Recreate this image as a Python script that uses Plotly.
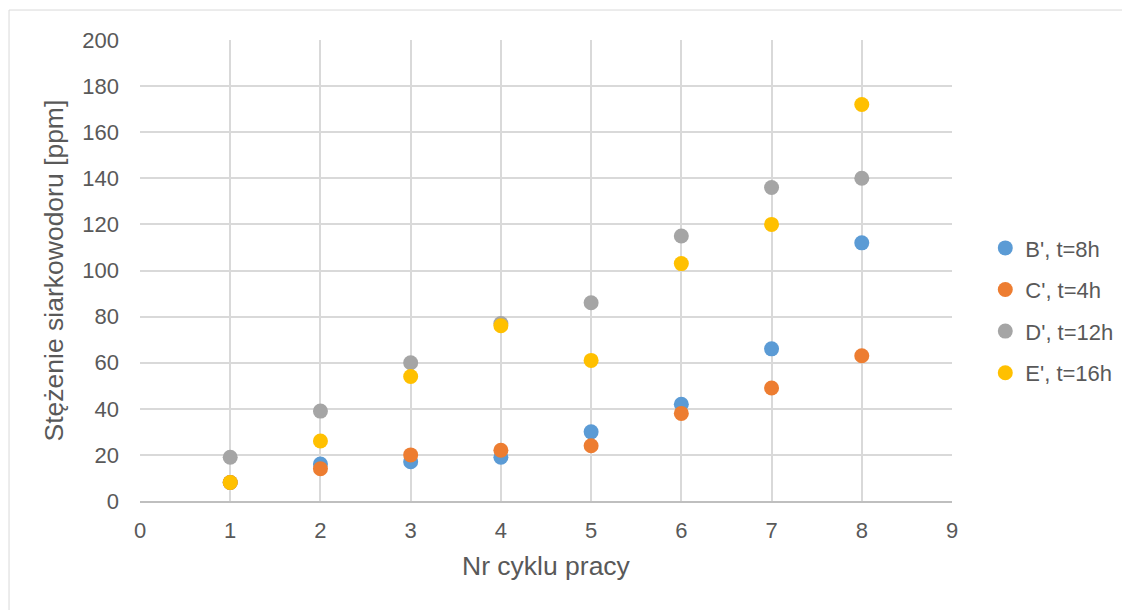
import plotly.graph_objects as go

cycles = [1, 2, 3, 4, 5, 6, 7, 8]
b_vals = [8, 16, 17, 19, 30, 42, 66, 112]
c_vals = [8, 14, 20, 22, 24, 38, 49, 63]
d_vals = [19, 39, 60, 77, 86, 115, 136, 140]
e_vals = [8, 26, 54, 76, 61, 103, 120, 172]

x_title = "Nr cyklu pracy"
y_title = "Stężenie siarkowodoru [ppm]"

series = [
    ("B', t=8h", b_vals, "#5b9bd5"),
    ("C', t=4h", c_vals, "#ed7d31"),
    ("D', t=12h", d_vals, "#a5a5a5"),
    ("E', t=16h", e_vals, "#ffc000"),
]

fig = go.Figure()
for i, (name, vals, col) in enumerate(series):
    fig.add_trace(go.Scatter(x=cycles, y=vals, mode="markers", name=name,
                             legendgroup=f"g{i}",
                             marker=dict(size=15, color=col)))

font = "Liberation Sans, Arial, sans-serif"
# plot area on screen: x 140..952, y 40..501 (page has 8px body margin)
fig.update_layout(
    width=1130, height=610,
    margin=dict(l=132, r=186, t=32, b=117),
    paper_bgcolor="white", plot_bgcolor="white",
    font=dict(family=font, size=22, color="#595959"),
    showlegend=True,
    legend=dict(x=1.041, y=0.413, xanchor="left", yanchor="middle",
                font=dict(size=22, color="#595959"), itemwidth=30,
                traceorder="grouped", tracegroupgap=10),
    xaxis=dict(range=[0, 9], dtick=1, tick0=0, showgrid=True, gridcolor="#d9d9d9",
               gridwidth=1.5, zeroline=False, showline=True, linecolor="#bfbfbf",
               linewidth=1.5, ticks="", ticklabelstandoff=9,
               tickfont=dict(size=22)),
    yaxis=dict(range=[0, 200], dtick=20, showgrid=True, gridcolor="#d9d9d9",
               gridwidth=1.5, zeroline=False, showline=False, ticks="",
               ticklabelstandoff=20, tickfont=dict(size=22)),
    annotations=[
        dict(text=x_title, xref="paper", yref="paper", x=0.5, y=-0.141,
             xanchor="center", yanchor="middle", showarrow=False,
             font=dict(size=26.5, color="#595959")),
        dict(text=y_title, xref="paper", yref="paper", x=-0.106, y=0.5,
             xanchor="center", yanchor="middle", showarrow=False, textangle=-90,
             font=dict(size=26.5, color="#595959")),
    ],
    shapes=[dict(type="rect", xref="paper", yref="paper",
                 x0=-0.1613, x1=1.25, y0=-0.26, y1=1.065,
                 line=dict(color="#d9d9d9", width=1), fillcolor="rgba(0,0,0,0)", layer="below")],
)

fig.write_html("out.html")
